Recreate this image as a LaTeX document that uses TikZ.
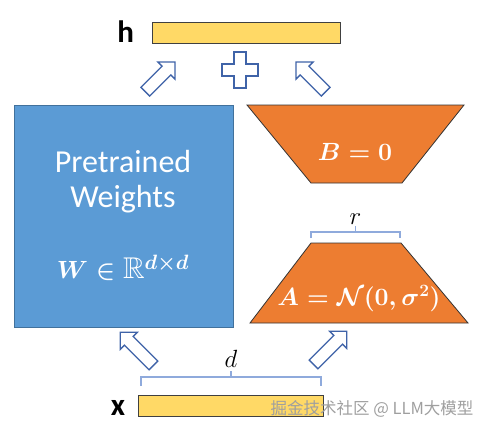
\documentclass[tikz,border=0pt]{standalone}
\usepackage{amsmath,amssymb}
\usepackage{fontspec}
\setmainfont{Carlito}
\setsansfont{Carlito}
\newfontfamily\cjk{Noto Sans CJK SC}
\usetikzlibrary{shapes.arrows,calc}
\definecolor{wblue}{HTML}{5B9BD5}
\definecolor{wblueline}{HTML}{41719C}
\definecolor{lorange}{HTML}{ED7D31}
\definecolor{vecyellow}{HTML}{FFD966}
\definecolor{arrowblue}{HTML}{3F63A8}
\definecolor{braceblue}{HTML}{8FAADC}

\begin{document}
\begin{tikzpicture}[
  x=1pt, y=-1pt,
  vec/.style={draw=black!75, line width=0.8pt, fill=vecyellow},
  trap/.style={draw=black!80, line width=0.8pt, fill=lorange},
  wtxt/.style={text=white, font=\fontsize{32}{35}\selectfont, align=center},
  mtxt/.style={text=white, font=\fontsize{26}{28}\selectfont\boldmath},
  lbl/.style={font=\fontsize{31}{31}\selectfont\bfseries},
  hollow/.style={single arrow, draw=arrowblue, fill=white, line width=1.3pt,
    inner sep=5.5pt, single arrow head extend=6pt, single arrow head indent=0pt},
  brace/.style={draw=braceblue, line width=1.1pt}
]
\useasboundingbox (0,0) rectangle (478,432);

% output and input vectors
\node[vec, minimum width=188pt, minimum height=21pt, inner sep=0pt] (h) at (246,33) {};
\node[lbl, anchor=east] (hl) at ($(h.west)+(-14,-1)$) {h};
\node[vec, minimum width=185pt, minimum height=21pt, inner sep=0pt] (x) at (230.5,405.5) {};
\node[lbl, anchor=east] (xl) at ($(x.west)+(-9,2)$) {x};

% pretrained weights
\node[draw=wblueline, line width=1pt, fill=wblue, minimum width=219pt, minimum height=222pt] (W) at (123.5,216) {};
\node[wtxt] (Wt) at (123,182) {Pretrained\\Weights};
\node[mtxt, font=\fontsize{30}{30}\selectfont\boldmath] (Wm) at (123,268) {$W\in\mathbb{R}^{d\times d}$};

% low-rank factors
\coordinate (b1) at (247,105);
\coordinate (b2) at (464,105);
\coordinate (b3) at (402,183);
\coordinate (b4) at (311,183);
\draw[trap] (b1) -- (b2) -- (b3) -- (b4) -- cycle;
\node[mtxt] (B) at (355,152) {$B=0$};

\coordinate (a1) at (311,243);
\coordinate (a2) at (401,243);
\coordinate (a3) at (468,323);
\coordinate (a4) at (250,323);
\draw[trap] (a1) -- (a2) -- (a3) -- (a4) -- cycle;
\node[mtxt] (A) at (359,299) {$A=\mathcal{N}(0,\sigma^2)$};

% dimension brackets
\coordinate (r1) at (311,238);
\coordinate (r2) at (400,238);
\draw[brace] (r1) -- ++(0,-6) -| (r2);
\draw[brace] ($(r1)!0.5!(r2)+(0,-6)$) -- ++(0,-6) coordinate (rt);
\node[font=\fontsize{24}{24}\selectfont, anchor=south] (r) at ($(rt)+(0,2)$) {$r$};

\coordinate (d1) at (141,386);
\coordinate (d2) at (321,386);
\draw[brace] (d1) -- ++(0,-9) -| (d2);
\draw[brace] ($(d1)!0.5!(d2)+(0,-9)$) -- ++(0,-6) coordinate (dt);
\node[font=\fontsize{24}{24}\selectfont, anchor=south] (d) at ($(dt)+(0,0)$) {$d$};

% flow arrows
\node[hollow, minimum height=42pt, rotate=45] (ul) at (158,79) {};
\node[hollow, minimum height=42pt, rotate=135] (ur) at (313,79) {};
\node[hollow, minimum height=47pt, rotate=135] (dl) at (139,351) {};
\node[hollow, minimum height=47pt, rotate=45] (dr) at (328,350) {};

% plus sign
\draw[draw=arrowblue, fill=white, line width=1.3pt]
  (234,52) -- (246,52) -- (246,64) -- (258,64) -- (258,76) -- (246,76) -- (246,88)
  -- (234,88) -- (234,76) -- (222,76) -- (222,64) -- (234,64) -- cycle;

% watermark
\node[text=gray!75, font=\cjk\fontsize{16.5}{16.5}\selectfont] (wm) at (372,409) {掘金技术社区 @ LLM大模型};
\end{tikzpicture}
\end{document}
